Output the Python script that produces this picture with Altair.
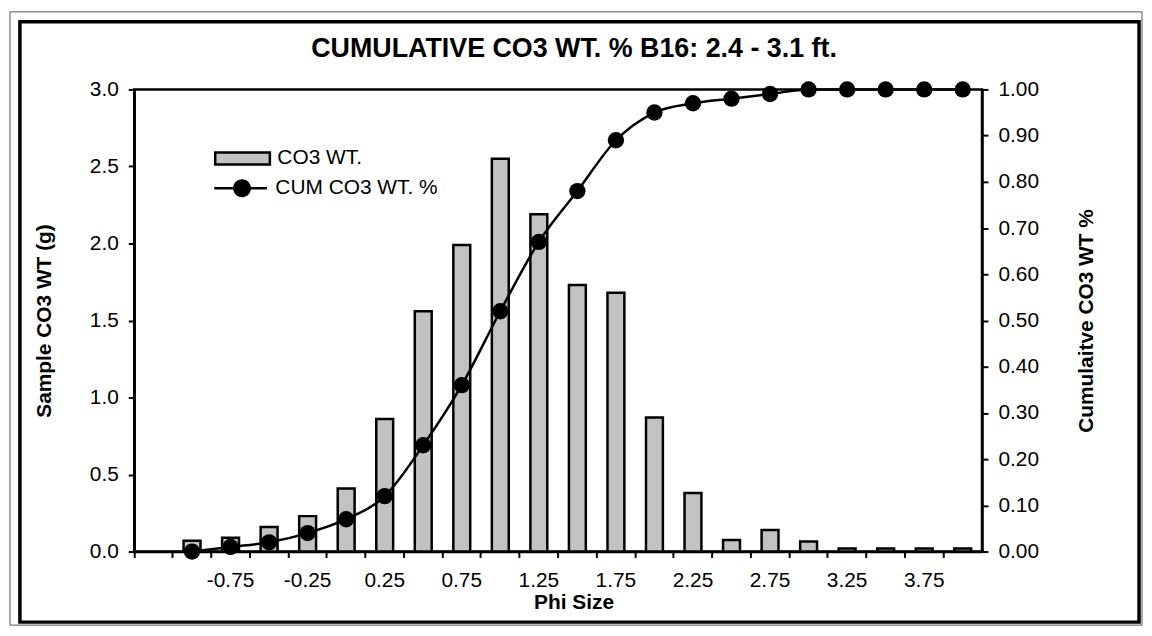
import json
import altair as alt
import pandas as pd

# ---- data ----
categories = ["-1.25", "-1", "-0.75", "-0.5", "-0.25", "0", "0.25", "0.5", "0.75", "1",
              "1.25", "1.5", "1.75", "2", "2.25", "2.5", "2.75", "3", "3.25", "3.5",
              "3.75", "4"]
phi = ["-1", "-0.75", "-0.5", "-0.25", "0", "0.25", "0.5", "0.75", "1", "1.25",
       "1.5", "1.75", "2", "2.25", "2.5", "2.75", "3", "3.25", "3.5", "3.75", "4"]
co3_wt = [0.07, 0.09, 0.16, 0.23, 0.41, 0.86, 1.56, 1.99, 2.55, 2.19,
          1.73, 1.68, 0.87, 0.38, 0.075, 0.14, 0.065, 0.02, 0.02, 0.02, 0.02]
cum_co3 = [0.00, 0.01, 0.02, 0.04, 0.07, 0.12, 0.23, 0.36, 0.52, 0.67,
           0.78, 0.89, 0.95, 0.97, 0.98, 0.99, 1.00, 1.00, 1.00, 1.00, 1.00]
tick_labels = ["-0.75", "-0.25", "0.25", "0.75", "1.25", "1.75", "2.25", "2.75", "3.25", "3.75"]
left_ticks = [0, 0.5, 1.0, 1.5, 2.0, 2.5, 3.0]
right_ticks = [0, 0.1, 0.2, 0.3, 0.4, 0.5, 0.6, 0.7, 0.8, 0.9, 1.0]

bar_name = "CO3 WT."
line_name = "CUM CO3 WT. %"

bar_df = pd.DataFrame({"phi": phi, "co3": co3_wt, "series": bar_name})
cum_df = pd.DataFrame({"phi": phi, "cum": cum_co3, "series": line_name})
frame_df = pd.DataFrame({"k": [0]})

FONT = "Liberation Sans"
W, H = 853, 465

RECT_PATH = "M-1,-0.6H4.5V0.6H-1Z"
LINE_DOT_PATH = ("M-1,-0.125H4.3V0.125H-1Z "
                 "M2.7,0 A0.9,0.9 0 1 1 0.9,0 A0.9,0.9 0 1 1 2.7,0 Z")

label_expr = ("indexof(" + json.dumps(tick_labels) + ", datum.value) >= 0 ? datum.value : ''")

x_enc = alt.X(
    "phi:N",
    sort=categories,
    scale=alt.Scale(domain=categories, paddingInner=0, paddingOuter=0),
    axis=alt.Axis(
        title="Phi Size",
        labelExpr=label_expr,
        labelAngle=0,
        bandPosition=0,
        labelPadding=12,
        tickSize=6,
        titleX=442,
        titleY=51,
        titleBaseline="middle",
    ),
)

right_axis = alt.Axis(
    title="Cumulaitve CO3 WT %",
    orient="right",
    values=right_ticks,
    format=".2f",
    tickSize=6,
    labelPadding=10,
    titleAngle=270,
    titleX=105,
    titleY=H / 2,
    titleBaseline="middle",
    titleAlign="center",
)

frame_outer = alt.Chart(frame_df).mark_rect(
    fill="white", fillOpacity=0, stroke="#555555", strokeWidth=1
).encode(x=alt.value(-125), x2=alt.value(1014), y=alt.value(-78), y2=alt.value(539))

frame = alt.Chart(frame_df).mark_rect(
    fill="white", fillOpacity=0, stroke="black", strokeWidth=3.5
).encode(x=alt.value(-115), x2=alt.value(1011), y=alt.value(-68), y2=alt.value(536))

bars = alt.Chart(bar_df).mark_bar(size=17, stroke="black", strokeWidth=2.5).encode(
    x=x_enc,
    y=alt.Y(
        "co3:Q",
        scale=alt.Scale(domain=[0, 3], nice=False),
        axis=alt.Axis(
            title="Sample CO3 WT (g)",
            values=left_ticks,
            format=".1f",
            tickSize=6,
            labelPadding=10,
            titleAngle=270,
            titleX=-90,
            titleY=H / 2,
            titleBaseline="middle",
            titleAlign="center",
        ),
    ),
    fill=alt.Fill(
        "series:N",
        scale=alt.Scale(domain=[bar_name], range=["#c2c2c2"]),
        legend=alt.Legend(
            title=None,
            orient="none",
            legendX=80,
            legendY=58,
            padding=0,
            symbolType=RECT_PATH,
            symbolSize=400,
            symbolStrokeColor="black",
            symbolStrokeWidth=2.5,
            labelOffset=41,
            labelFontSize=21,
            labelFont=FONT,
            labelColor="black",
            labelLimit=0,
        ),
    ),
)

line = alt.Chart(cum_df).mark_line(color="black", strokeWidth=2.5, interpolate="monotone").encode(
    x=alt.X("phi:N", sort=categories),
    y=alt.Y("cum:Q", scale=alt.Scale(domain=[0, 1], nice=False), axis=right_axis),
)

points = alt.Chart(cum_df).mark_point(filled=True, shape="circle", size=270, opacity=1).encode(
    x=alt.X("phi:N", sort=categories),
    y=alt.Y("cum:Q", scale=alt.Scale(domain=[0, 1], nice=False), axis=right_axis),
    color=alt.Color(
        "series:N",
        scale=alt.Scale(domain=[line_name], range=["black"]),
        legend=alt.Legend(
            title=None,
            orient="none",
            legendX=80,
            legendY=89,
            padding=0,
            symbolType=LINE_DOT_PATH,
            symbolSize=400,
            symbolStrokeWidth=0,
            labelOffset=41,
            labelFontSize=21,
            labelFont=FONT,
            labelColor="black",
            labelLimit=0,
        ),
    ),
)

chart = (
    alt.layer(frame_outer, frame, bars, alt.layer(line, points))
    .resolve_scale(y="independent")
    .properties(
        width=W,
        height=H,
        padding={"left": 127, "top": 80, "right": 163, "bottom": 75},
        autosize=alt.AutoSizeParams(type="none"),
        background="white",
        title=alt.TitleParams(
            text="CUMULATIVE CO3 WT. % B16: 2.4 - 3.1 ft.",
            font=FONT,
            fontSize=27,
            fontWeight="bold",
            color="black",
            anchor="middle",
            frame="group",
            dx=16,
            offset=0,
            dy=52,
        ),
    )
    .configure_view(stroke="black", strokeWidth=2.5)
    .configure_axis(
        labelFont=FONT,
        labelFontSize=21,
        labelColor="black",
        titleFont=FONT,
        titleFontSize=21,
        titleFontWeight="bold",
        titleColor="black",
        tickColor="black",
        tickWidth=2,
        domainColor="black",
        domainWidth=2.5,
        grid=False,
    )
)

chart.save("out.html", embed_options={"renderer": "svg", "actions": False})
